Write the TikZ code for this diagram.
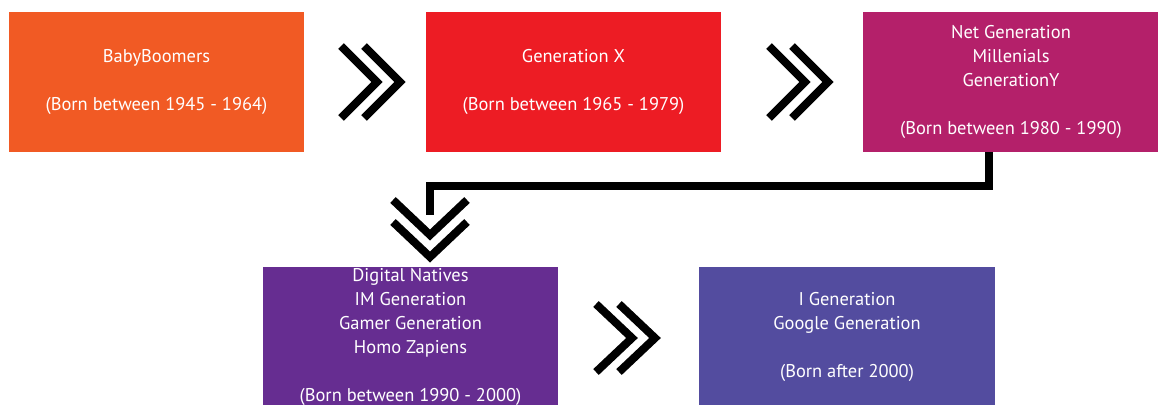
\documentclass[tikz,border=0pt]{standalone}
\usepackage{fontspec}
\setmainfont{PT Sans}
\definecolor{boomer}{HTML}{F15A24}
\definecolor{genx}{HTML}{ED1C24}
\definecolor{geny}{HTML}{B4206A}
\definecolor{native}{HTML}{662D91}
\definecolor{igen}{HTML}{534C9F}
\tikzset{
  genbox/.style={rectangle, fill=#1, text=white, align=center, inner sep=0pt,
    minimum width=5.92cm, minimum height=2.8cm,
    font=\fontsize{10.5}{13.6}\selectfont},
  chev/.style={line width=0.16cm, line join=miter, black},
  elbow/.style={line width=0.16cm, line join=miter, black}
}
\begin{document}
\begin{tikzpicture}[x=0.02cm,y=-0.02cm]
    \useasboundingbox (0,0) rectangle (1158,405);
    \clip (0,0) rectangle (1158,405);

    \node[genbox=boomer] (b1) at (156.5,82) {BabyBoomers\\[13.6pt](Born between 1945 - 1964)};
    \node[genbox=genx]   (b2) at (573.5,82) {Generation X\\[13.6pt](Born between 1965 - 1979)};
    \node[genbox=geny]   (b3) at (1011,82) {Net Generation\\Millenials\\GenerationY\\[13.6pt](Born between 1980 - 1990)};
    \node[genbox=native] (b4) at (410.5,337) {Digital Natives\\IM Generation\\Gamer Generation\\Homo Zapiens\\[13.6pt](Born between 1990 - 2000)};
    \node[genbox=igen]   (b5) at (847,337) {I Generation\\Google Generation\\[13.6pt](Born after 2000)};

    % double chevrons between the boxes
    \foreach \x in {341,364,769,792}
      \draw[chev] (\x,46) -- ++(36,36) -- ++(-36,36);
    \foreach \x in {596,619}
      \draw[chev] (\x,304) -- ++(36,34) -- ++(-36,34);

    % from the third box down to the fourth
    \coordinate (drop) at (989,186);
    \coordinate (stub) at (430,215);
    \draw[elbow] (b3.south -| drop) -- (drop) -- (drop -| stub) -- (stub);
    \foreach \y in {200,222}
      \draw[chev] (393,\y) -- ++(37,35) -- ++(37,-35);
  \end{tikzpicture}
\end{document}
